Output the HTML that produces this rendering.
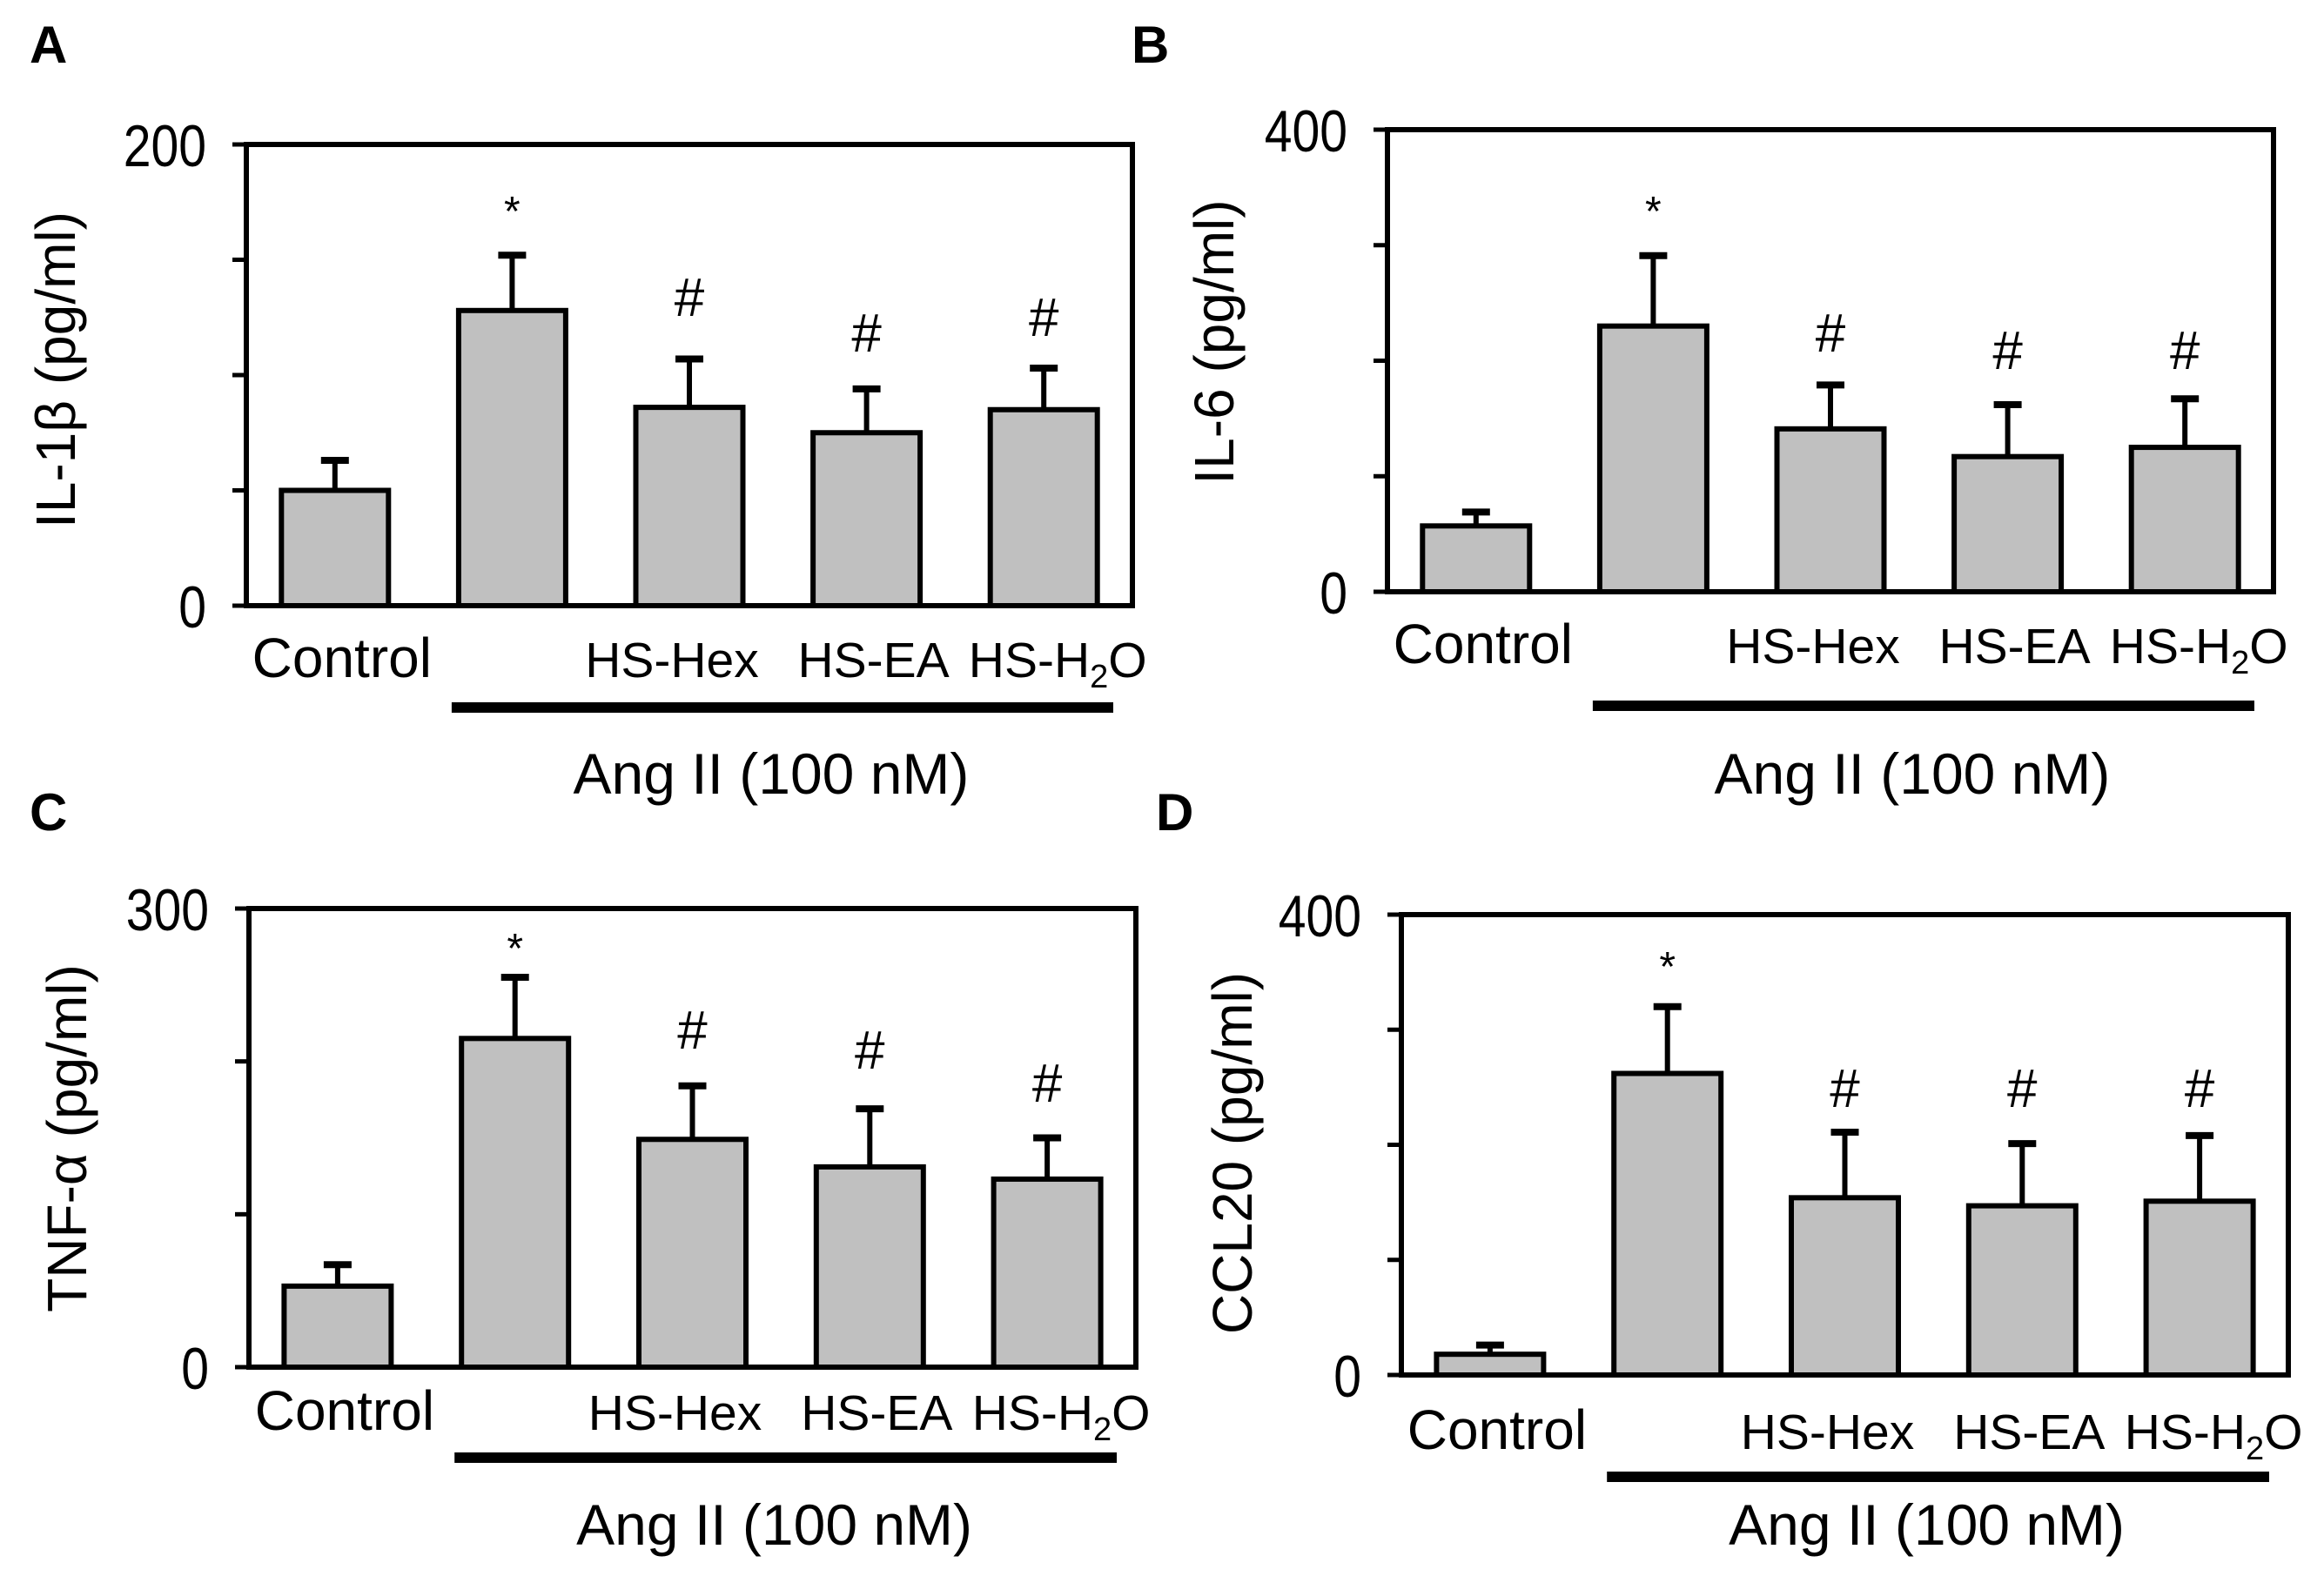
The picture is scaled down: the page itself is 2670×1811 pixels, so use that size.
<!DOCTYPE html>
<html><head><meta charset="utf-8"><style>
html,body{margin:0;padding:0;background:#fff;}
svg{display:block;font-family:"Liberation Sans",Arial,sans-serif;}
</style></head><body>
<svg id="fig" width="2670" height="1811" viewBox="0 0 2670 1811" xmlns="http://www.w3.org/2000/svg"></svg>
<script>
const categories = ["Control", "Ang II", "HS-Hex", "HS-EA", "HS-H2O"];
const il1bValues = [50, 128, 86, 75, 85];
const il1bErrors = [13, 24, 21, 19, 18];
const il6Values = [57, 230, 141, 117, 125];
const il6Errors = [12, 61, 38, 45, 42];
const tnfValues = [53, 215, 149, 131, 123];
const tnfErrors = [14, 40, 35, 38, 27];
const ccl20Values = [18, 262, 154, 147, 151];
const ccl20Errors = [8, 58, 57, 54, 57];
const il1bTicks = [0, 200];
const il6Ticks = [0, 400];
const tnfTicks = [0, 300];
const ccl20Ticks = [0, 400];
const il1bMarks = ["", "*", "#", "#", "#"];
const il6Marks = ["", "*", "#", "#", "#"];
const tnfMarks = ["", "*", "#", "#", "#"];
const ccl20Marks = ["", "*", "#", "#", "#"];

const NS = "http://www.w3.org/2000/svg";
const svg = document.getElementById("fig");
function mk(tag, attrs, parent, text) {
  const e = document.createElementNS(NS, tag);
  for (const k in attrs) e.setAttribute(k, attrs[k]);
  if (text !== undefined) e.textContent = text;
  (parent || svg).appendChild(e);
  return e;
}

const panels = [
  {id:"a", letter:"A", lx:34, ly:72, left:283, right:1301, top:166, bottom:696, max:200, minor:4, title:"IL-1\u03b2 (pg/ml)", tx:64, ty:425,
   vals:il1bValues, errs:il1bErrors, ticks:il1bTicks, marks:il1bMarks, markY:[0,237,341,382,364], labelY:778, angBarY:813, angY:912},
  {id:"b", letter:"B", lx:1300, ly:72, left:1594, right:2612, top:149, bottom:680, max:400, minor:4, title:"IL-6 (pg/ml)", tx:1395, ty:393,
   vals:il6Values, errs:il6Errors, ticks:il6Ticks, marks:il6Marks, markY:[0,237,382,402,402], labelY:762, angBarY:811, angY:912},
  {id:"c", letter:"C", lx:34, ly:954, left:286, right:1305, top:1044, bottom:1571, max:300, minor:3, title:"TNF-\u03b1 (pg/ml)", tx:77, ty:1308,
   vals:tnfValues, errs:tnfErrors, ticks:tnfTicks, marks:tnfMarks, markY:[0,1084,1183,1206,1244], labelY:1643, angBarY:1675, angY:1775},
  {id:"d", letter:"D", lx:1328, ly:954, left:1610, right:2629, top:1051, bottom:1580, max:400, minor:4, title:"CCL20 (pg/ml)", tx:1416, ty:1325,
   vals:ccl20Values, errs:ccl20Errors, ticks:ccl20Ticks, marks:ccl20Marks, markY:[0,1105,1250,1250,1250], labelY:1665, angBarY:1697, angY:1775}
];

panels.forEach(p => {
  const g = mk("g", {});
  
  
  const yS = v => p.bottom - (v / p.max) * (p.bottom - p.top);
  const step = (p.right - p.left) / 5;
  const xC = i => p.left + step * (i + 0.5);
  const bw = 123;

  const lt = mk("text", {x:p.lx, y:p.ly, "font-size":60, "font-weight":"bold"}, g, p.letter);
  
  

  p.vals.forEach((v, i) => {
    const e = p.errs[i];
    const cx = xC(i);
    const eb = mk("g", {stroke:"#000", "stroke-width":6}, g);
    
    
    mk("line", {x1:cx, x2:cx, y1:yS(v), y2:yS(v + e)}, eb);
    mk("line", {x1:cx - 16, x2:cx + 16, y1:yS(v + e), y2:yS(v + e), "stroke-width":8}, eb);
    const r = mk("rect", {x:cx - bw/2, y:yS(v), width:bw, height:p.bottom - yS(v), fill:"#c0c0c0", stroke:"#000", "stroke-width":6}, g);
    
    
    if (p.marks[i]) {
      const isStar = p.marks[i] === "*";
      const m = mk("text", {x:cx, y:p.markY[i] + (isStar ? 22 : 22), "font-size":isStar ? 48 : 62, "text-anchor":"middle"}, g, p.marks[i]);
      
      
    }
  });

  const fr = mk("rect", {x:p.left, y:p.top, width:p.right - p.left, height:p.bottom - p.top, fill:"none", stroke:"#000", "stroke-width":6}, g);
  
  
  for (let k = 0; k <= p.minor; k++) {
    const y = p.top + (p.bottom - p.top) * k / p.minor;
    mk("line", {x1:p.left - 16, x2:p.left, y1:y, y2:y, stroke:"#000", "stroke-width":5}, g);
  }
  p.ticks.forEach(t => {
    const tl = mk("text", {x:0, y:0, "font-size":68, "text-anchor":"end", transform:`translate(${p.left - 46},${yS(t) + 25}) scale(0.84,1)`}, g, String(t));
    
    
  });

  const yt = mk("text", {x:0, y:0, "font-size":64, "text-anchor":"middle", transform:`translate(${p.tx + 22},${p.ty}) rotate(-90)`}, g, p.title);
  
  

  const offs = [8, 0, -20, 8, 16];
  categories.forEach((c, i) => {
    if (i === 1) return;
    const cx = xC(i) + offs[i];
    const fs = i === 0 ? 64 : 57;
    const t = mk("text", {x:cx, y:p.labelY, "font-size":fs, "text-anchor":"middle"}, g);
    
    
    if (c === "HS-H2O") {
      mk("tspan", {}, t, "HS-H");
      mk("tspan", {"font-size":38, dy:12}, t, "2");
      mk("tspan", {dy:-12}, t, "O");
    } else {
      t.textContent = c;
    }
  });

  const bar = mk("line", {x1:xC(1) - bw/2 - 8, x2:p.right - 22, y1:p.angBarY, y2:p.angBarY, stroke:"#000", "stroke-width":12}, g);
  
  
  const al = mk("text", {x:(xC(1) - bw/2 + p.right) / 2 - 28, y:p.angY, "font-size":66, "text-anchor":"middle"}, g, "Ang II (100 nM)");
  
  
});
</script>
</body></html>
